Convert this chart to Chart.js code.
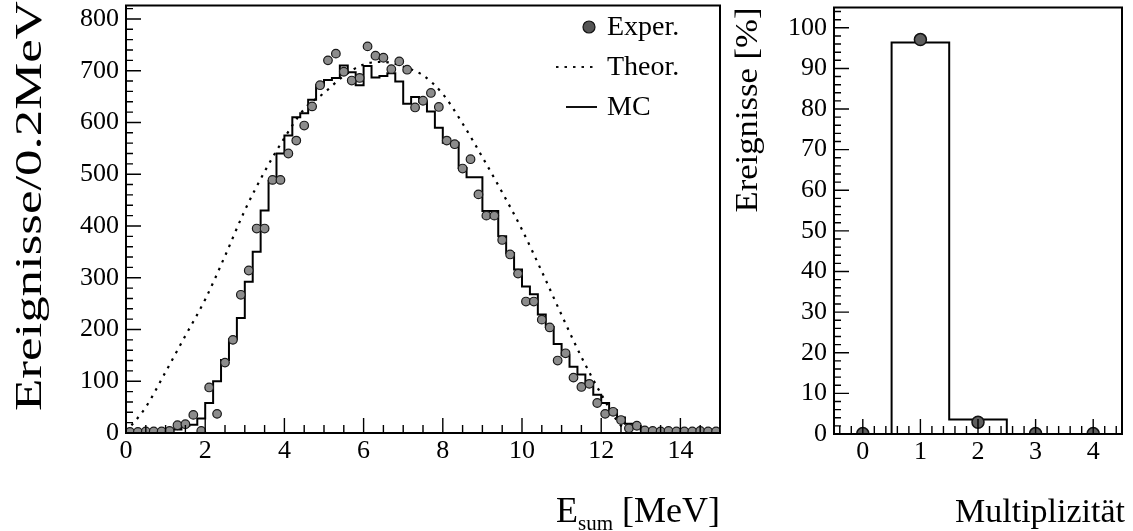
<!DOCTYPE html>
<html>
<head>
<meta charset="utf-8">
<script src="https://cdn.jsdelivr.net/npm/chart.js@4.4.0/dist/chart.umd.min.js"></script>
<style>
    html, body { margin: 0; padding: 0; background: #fff; }
    #wrap { position: relative; width: 1133px; height: 531px; }
    #leftBox { position: absolute; left: 0; top: 0; width: 730px; height: 531px; }
    #rightBox { position: absolute; left: 730px; top: 0; width: 403px; height: 531px; }
</style>
</head>
<body>
<div id="wrap">
    <div id="leftBox"><canvas id="esumChart"></canvas></div>
    <div id="rightBox"><canvas id="multChart"></canvas></div>
</div>
<script>
// Summenenergie: 0.2 MeV Bins von 0 bis 15 MeV
const binWidth = 0.2;
const mcCounts = [
    1, 1, 1, 1, 2, 3, 7, 14, 16, 28,
    58, 100, 141, 181, 222, 292, 350, 430, 487, 540,
    575, 610, 618, 644, 672, 682, 686, 710, 697, 672,
    709, 687, 690, 695, 679, 636, 649, 640, 621, 590,
    561, 561, 512, 494, 494, 429, 429, 380, 348, 316,
    283, 268, 229, 205, 172, 150, 128, 113, 96, 74,
    58, 44, 30, 18, 10, 5, 3, 2, 2, 2,
    1, 1, 1, 1, 1
];
const expCounts = [
    2, 2, 3, 3, 3, 4, 15, 17, 35, 4,
    88, 37, 136, 180, 267, 314, 395, 395, 489, 489,
    540, 565, 594, 631, 672, 720, 733, 698, 681, 686,
    747, 729, 725, 703, 718, 702, 629, 642, 657, 630,
    565, 558, 511, 529, 461, 420, 420, 373, 345, 308,
    254, 254, 219, 204, 140, 154, 107, 89, 95, 58,
    37, 41, 25, 9, 14, 5, 4, 3, 4, 3,
    3, 3, 4, 3, 3
];
const theoryEnergy = [0, 0.5, 1, 1.5, 2, 2.5, 3, 3.5, 4, 4.5, 5, 5.5, 6, 6.5,
    7, 7.5, 8, 8.5, 9, 9.5, 10, 10.5, 11, 11.5, 12, 12.5, 12.8];
const theoryCounts = [2, 50, 118, 188, 258, 342, 430, 505, 570, 626, 657, 690, 712, 717,
    708, 691, 655, 598, 533, 465, 393, 312, 228, 147, 75, 14, 0];
const energyTicks = [0, 2, 4, 6, 8, 10, 12, 14];
const countTicks = [0, 100, 200, 300, 400, 500, 600, 700, 800];

// Multiplizität
const multiplicity = [0, 1, 2, 3, 4];
const multMC = [0, 96.4, 3.6, 0, 0];
const multExp = [0.1, 97.1, 2.9, 0.1, 0.1];
const percentTicks = [0, 10, 20, 30, 40, 50, 60, 70, 80, 90, 100];

const SERIF = '"Liberation Serif", "Times New Roman", serif';
Chart.defaults.font.family = SERIF;
Chart.defaults.color = '#000';

function serif(size) {
    return size + 'px ' + SERIF;
}

// keine automatische Randzugabe der Achsen
function fixAxis(s, size) {
    if (s.isHorizontal()) s.height = size; else s.width = size;
    s.paddingTop = 0;
    s.paddingBottom = 0;
    s.paddingLeft = 0;
    s.paddingRight = 0;
}

// Rahmen, nach innen zeigende Striche und Achsentitel
function framePlugin(cfg) {
    return {
        id: 'frame',
        afterDraw(chart) {
            const { ctx, chartArea: a, scales } = chart;
            ctx.save();
            ctx.strokeStyle = '#000';
            ctx.lineWidth = 2;
            ctx.strokeRect(a.left, a.top, a.right - a.left, a.bottom - a.top);

            ctx.lineWidth = 1.4;
            ctx.beginPath();
            const sx = scales.x, sy = scales.y;
            eachStep(sx.min, sx.max, cfg.xMinor, cfg.xMajor, (v, major) => {
                const px = sx.getPixelForValue(v);
                ctx.moveTo(px, a.bottom);
                ctx.lineTo(px, a.bottom - (major ? 15 : 8));
            });
            eachStep(sy.min, sy.max, cfg.yMinor, cfg.yMajor, (v, major) => {
                const py = sy.getPixelForValue(v);
                ctx.moveTo(a.left, py);
                ctx.lineTo(a.left + (major ? 15 : 7), py);
            });
            ctx.stroke();

            ctx.fillStyle = '#000';
            const yt = cfg.yTitle;
            ctx.save();
            ctx.font = serif(yt.size);
            const w = ctx.measureText(yt.text).width;
            ctx.translate(yt.x, yt.y);
            ctx.rotate(-Math.PI / 2);
            ctx.scale(yt.length / w, 1);
            ctx.textAlign = 'center';
            ctx.textBaseline = 'middle';
            ctx.fillText(yt.text, 0, 0);
            ctx.restore();

            const xt = cfg.xTitle;
            ctx.textBaseline = 'alphabetic';
            ctx.textAlign = 'left';
            let total = 0;
            xt.parts.forEach(p => {
                ctx.font = serif(p.sub ? xt.subSize : xt.size);
                p.w = ctx.measureText(p.text).width;
                total += p.w;
            });
            let cx = xt.right - total;
            xt.parts.forEach(p => {
                ctx.font = serif(p.sub ? xt.subSize : xt.size);
                ctx.fillText(p.text, cx, xt.baseline + (p.sub ? 8 : 0));
                cx += p.w;
            });

            if (cfg.legend) cfg.legend(ctx);
            ctx.restore();
        }
    };
}

function eachStep(min, max, step, major, fn) {
    const first = Math.ceil(min / step - 1e-9);
    const last = Math.floor(max / step + 1e-9);
    for (let n = first; n <= last; n++) {
        const v = n * step;
        if (Math.abs(v - min) < 1e-9 || Math.abs(v - max) < 1e-9) continue;
        const r = v / major;
        fn(v, Math.abs(r - Math.round(r)) < 1e-6);
    }
}

function drawEnergyLegend(ctx) {
    ctx.font = serif(28);
    ctx.textBaseline = 'middle';
    ctx.textAlign = 'left';

    ctx.beginPath();
    ctx.arc(589, 27, 6, 0, Math.PI * 2);
    ctx.fillStyle = '#555';
    ctx.fill();
    ctx.lineWidth = 1.2;
    ctx.strokeStyle = '#111';
    ctx.stroke();
    ctx.fillStyle = '#000';
    ctx.fillText('Exper.', 607, 28);

    ctx.beginPath();
    ctx.setLineDash([2.5, 6]);
    ctx.lineWidth = 2.2;
    ctx.moveTo(556, 67);
    ctx.lineTo(598, 67);
    ctx.stroke();
    ctx.setLineDash([]);
    ctx.lineWidth = 2;
    ctx.fillText('Theor.', 607, 68);

    ctx.beginPath();
    ctx.moveTo(566, 107);
    ctx.lineTo(597, 107);
    ctx.stroke();
    ctx.fillText('MC', 607, 108);
}

class SpectrumFigure {
    constructor() {
        this.charts = {};
        this.initEnergyChart();
        this.initMultiplicityChart();
    }

    histogramSteps(values, start, width) {
        const pts = values.map((v, i) => ({ x: start + i * width, y: v }));
        pts.push({ x: start + values.length * width, y: values[values.length - 1] });
        return pts;
    }

    axis(min, max, tickValues, size, pad) {
        return {
            type: 'linear',
            min: min,
            max: max,
            afterBuildTicks: s => { s.ticks = tickValues.map(v => ({ value: v })); },
            afterFit: s => fixAxis(s, size),
            grid: { display: false, drawTicks: false },
            border: { display: false },
            ticks: { font: { family: SERIF, size: 26 }, color: '#000', padding: pad, maxRotation: 0 }
        };
    }

    initEnergyChart() {
        const ctx = document.getElementById('esumChart');

        this.charts.energy = new Chart(ctx, {
            type: 'line',
            data: {
                datasets: [
                    {
                        label: 'Exper.',
                        data: expCounts.map((v, i) => ({ x: (i + 0.5) * binWidth, y: v })),
                        showLine: false,
                        pointRadius: 4.3,
                        pointBackgroundColor: '#8c8c8c',
                        pointBorderColor: '#1a1a1a',
                        pointBorderWidth: 1.2
                    },
                    {
                        label: 'MC',
                        data: this.histogramSteps(mcCounts, 0, binWidth),
                        stepped: 'before',
                        borderColor: '#000',
                        borderWidth: 2,
                        pointRadius: 0,
                        fill: false
                    },
                    {
                        label: 'Theor.',
                        data: theoryEnergy.map((e, i) => ({ x: e, y: theoryCounts[i] })),
                        borderColor: '#000',
                        borderWidth: 2.2,
                        borderDash: [2.5, 6],
                        cubicInterpolationMode: 'monotone',
                        pointRadius: 0,
                        fill: false
                    }
                ]
            },
            options: {
                responsive: true,
                maintainAspectRatio: false,
                animation: false,
                layout: { padding: { top: 5, right: 10, left: 0, bottom: 0 } },
                plugins: {
                    legend: { display: false },
                    tooltip: { enabled: false }
                },
                scales: {
                    x: this.axis(0, 15, energyTicks, 98, 3),
                    y: this.axis(0, 826, countTicks, 126, 7)
                }
            },
            plugins: [framePlugin({
                xMinor: 0.5, xMajor: 2, yMinor: 20, yMajor: 100,
                yTitle: { text: 'Ereignisse/0.2MeV', size: 38, x: 31, y: 206, length: 410 },
                xTitle: {
                    size: 36, subSize: 21, right: 720, baseline: 522,
                    parts: [{ text: 'E' }, { text: 'sum', sub: true }, { text: ' [MeV]' }]
                },
                legend: drawEnergyLegend
            })]
        });
    }

    initMultiplicityChart() {
        const ctx = document.getElementById('multChart');

        this.charts.mult = new Chart(ctx, {
            type: 'line',
            data: {
                datasets: [
                    {
                        label: 'Exper.',
                        data: multiplicity.map((m, i) => ({ x: m, y: multExp[i] })),
                        showLine: false,
                        clip: 0,
                        pointRadius: 6,
                        pointBackgroundColor: '#5e5e5e',
                        pointBorderColor: '#111',
                        pointBorderWidth: 1.5
                    },
                    {
                        label: 'MC',
                        data: this.histogramSteps(multMC, multiplicity[0] - 0.5, 1),
                        stepped: 'before',
                        borderColor: '#000',
                        borderWidth: 2,
                        pointRadius: 0,
                        fill: false
                    }
                ]
            },
            options: {
                responsive: true,
                maintainAspectRatio: false,
                animation: false,
                layout: { padding: { top: 6, right: 11, left: 0, bottom: 0 } },
                plugins: {
                    legend: { display: false },
                    tooltip: { enabled: false }
                },
                scales: {
                    x: this.axis(-0.5, 4.5, multiplicity, 97, 3),
                    y: this.axis(0, 105, percentTicks, 104, 7)
                }
            },
            plugins: [framePlugin({
                xMinor: 0.2, xMajor: 1, yMinor: 2, yMajor: 10,
                yTitle: { text: 'Ereignisse [%]', size: 32, x: 19, y: 110, length: 205 },
                xTitle: {
                    size: 34, subSize: 20, right: 395, baseline: 522,
                    parts: [{ text: 'Multiplizität' }]
                }
            })]
        });
    }
}

document.addEventListener('DOMContentLoaded', () => {
    window.spectrumFigure = new SpectrumFigure();
});
</script>
</body>
</html>
